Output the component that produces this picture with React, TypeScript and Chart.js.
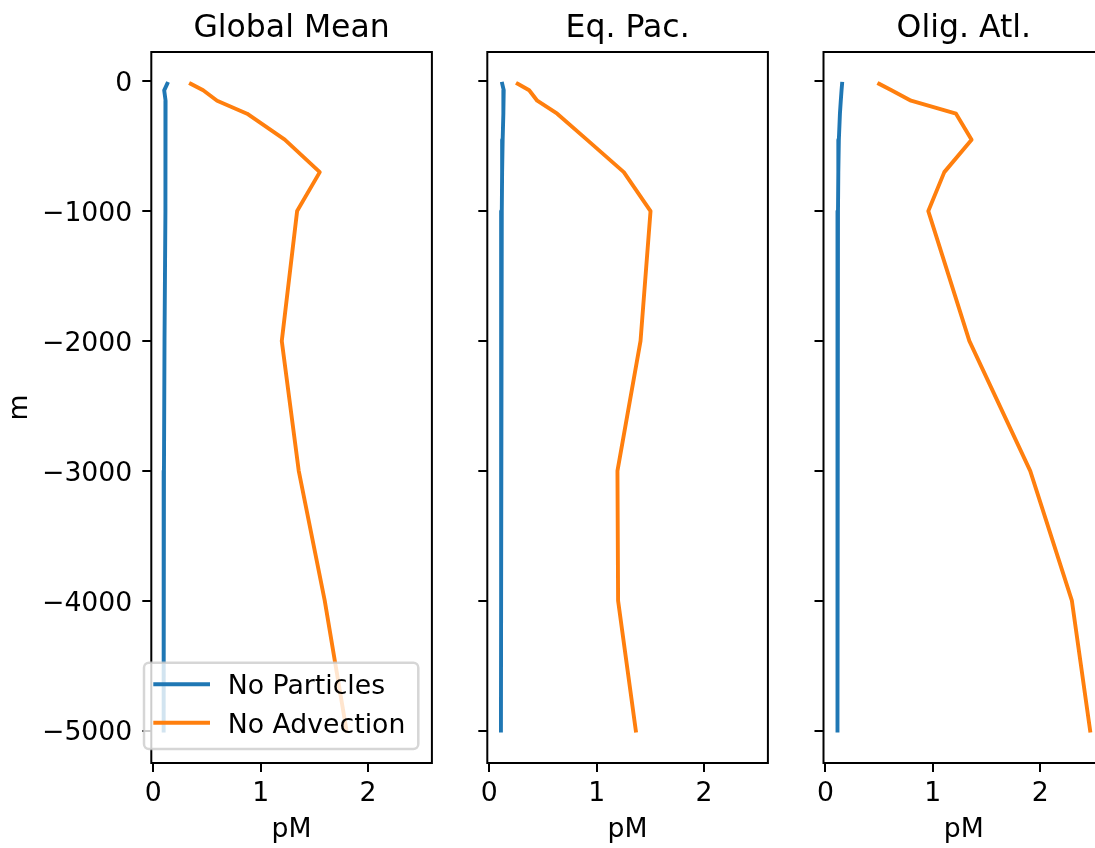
import React, { useEffect, useRef } from "react";
import { Chart, registerables } from "chart.js";
Chart.register(...registerables);

// ---------- data ----------
const DEPTHS = [-20, -70, -150, -250, -450, -700, -1000, -2000, -3000, -4000, -5000];
const PANEL_TITLES = ["Global Mean", "Eq. Pac.", "Olig. Atl."];
const SERIES_NAMES = ["No Particles", "No Advection"];
const GLOBAL_NO_PARTICLES = [0.13, 0.102, 0.115, 0.117, 0.115, 0.112, 0.11, 0.105, 0.1, 0.097, 0.097];
const GLOBAL_NO_ADVECTION = [0.35, 0.465, 0.595, 0.874, 1.225, 1.551, 1.34, 1.197, 1.355, 1.597, 1.8];
const EQPAC_NO_PARTICLES = [0.121, 0.135, 0.133, 0.13, 0.125, 0.12, 0.117, 0.112, 0.11, 0.11, 0.109];
const EQPAC_NO_ADVECTION = [0.265, 0.372, 0.447, 0.633, 0.909, 1.253, 1.502, 1.409, 1.194, 1.2, 1.365];
const OLIG_NO_PARTICLES = [0.155, 0.15, 0.143, 0.135, 0.125, 0.12, 0.117, 0.113, 0.112, 0.112, 0.112];
const OLIG_NO_ADVECTION = [0.5, 0.615, 0.797, 1.216, 1.361, 1.107, 0.958, 1.34, 1.907, 2.295, 2.465];
const X_TICKS = [0, 1, 2];
const Y_TICKS = [0, -1000, -2000, -3000, -4000, -5000];
const X_LABEL = "pM";
const Y_LABEL = "m";

// ---------- layout / style ----------
const FONT = '"DejaVu Sans", "Liberation Sans", sans-serif';
const TICK_SIZE = 26.7;
const TITLE_SIZE = 31.5;
const CANVAS_W = 1120;
const CANVAS_H = 848;
const PANEL_LEFT = [151.3, 487.3, 823.5];
const PANEL_W = 280.6;
const AREA_TOP = 52;
const AREA_BOTTOM = 763;
const X_MIN = -0.018;
const X_MAX = 2.595;
const Y_MIN = -5250;
const Y_MAX = 225;
const BLUE = "#1f77b4";
const ORANGE = "#ff7f0e";

const PANEL_SERIES = [
  [GLOBAL_NO_PARTICLES, GLOBAL_NO_ADVECTION],
  [EQPAC_NO_PARTICLES, EQPAC_NO_ADVECTION],
  [OLIG_NO_PARTICLES, OLIG_NO_ADVECTION],
];

const fmt = (v: number) => (v < 0 ? "\u2212" + Math.abs(v) : String(v));

const decorPlugin = {
  id: "decor",
  afterDatasetsDraw(chart: any, _args: any, opts: any) {
    const { ctx, chartArea: a } = chart;
    ctx.save();
    // spines
    ctx.strokeStyle = "#000";
    ctx.lineWidth = 2;
    ctx.strokeRect(a.left, a.top, a.right - a.left, a.bottom - a.top);
    const cx = (a.left + a.right) / 2;
    ctx.fillStyle = "#000";
    // title
    ctx.font = `${TITLE_SIZE}px ${FONT}`;
    ctx.textAlign = "center";
    ctx.textBaseline = "alphabetic";
    ctx.fillText(opts.title, cx, 37);
    // x label
    ctx.font = `${TICK_SIZE}px ${FONT}`;
    ctx.fillText(X_LABEL, cx, 837);
    // y label
    if (opts.yLabel) {
      ctx.save();
      ctx.translate(27, (a.top + a.bottom) / 2);
      ctx.rotate(-Math.PI / 2);
      ctx.textAlign = "center";
      ctx.fillText(Y_LABEL, 0, 0);
      ctx.restore();
    }
    // legend
    if (opts.legend) {
      const bx = a.left - 7.3;
      const by = 662.7;
      const bw = 274.3;
      const bh = 86.3;
      const r = 5;
      ctx.beginPath();
      ctx.moveTo(bx + r, by);
      ctx.lineTo(bx + bw - r, by);
      ctx.arcTo(bx + bw, by, bx + bw, by + r, r);
      ctx.lineTo(bx + bw, by + bh - r);
      ctx.arcTo(bx + bw, by + bh, bx + bw - r, by + bh, r);
      ctx.lineTo(bx + r, by + bh);
      ctx.arcTo(bx, by + bh, bx, by + bh - r, r);
      ctx.lineTo(bx, by + r);
      ctx.arcTo(bx, by, bx + r, by, r);
      ctx.closePath();
      ctx.fillStyle = "rgba(255,255,255,0.8)";
      ctx.fill();
      ctx.strokeStyle = "rgba(204,204,204,0.8)";
      ctx.lineWidth = 2.5;
      ctx.stroke();
      const rows = [684.3, 722.7];
      chart.data.datasets.forEach((ds: any, i: number) => {
        ctx.strokeStyle = ds.borderColor;
        ctx.lineWidth = 3.9;
        ctx.lineCap = "butt";
        ctx.beginPath();
        ctx.moveTo(a.left + 2, rows[i]);
        ctx.lineTo(a.left + 58.7, rows[i]);
        ctx.stroke();
        ctx.fillStyle = "#000";
        ctx.font = `${TICK_SIZE}px ${FONT}`;
        ctx.textAlign = "left";
        ctx.textBaseline = "alphabetic";
        ctx.fillText(ds.label, a.left + 76.5, rows[i] + 10);
      });
    }
    ctx.restore();
  },
};

function Panel({ index }: { index: number }) {
  const ref = useRef<HTMLCanvasElement>(null);
  useEffect(() => {
    if (!ref.current) return;
    const first = index === 0;
    const yW = first ? PANEL_LEFT[0] : 20;
    const left = PANEL_LEFT[index];
    const right = left + PANEL_W;
    const [np, na] = PANEL_SERIES[index];
    const grid = {
      display: true,
      drawOnChartArea: false,
      drawTicks: true,
      tickLength: 9,
      lineWidth: 2,
      tickWidth: 2,
      color: "#000",
      tickColor: "#000",
    };
    const chart = new Chart(ref.current, {
      type: "line",
      data: {
        datasets: [
          {
            label: SERIES_NAMES[0],
            data: DEPTHS.map((d, i) => ({ x: np[i], y: d })),
            borderColor: BLUE,
            backgroundColor: BLUE,
            borderWidth: 3.9,
            pointRadius: 0,
            fill: false,
            tension: 0,
            borderCapStyle: "square",
            borderJoinStyle: "round",
          },
          {
            label: SERIES_NAMES[1],
            data: DEPTHS.map((d, i) => ({ x: na[i], y: d })),
            borderColor: ORANGE,
            backgroundColor: ORANGE,
            borderWidth: 3.9,
            pointRadius: 0,
            fill: false,
            tension: 0,
            borderCapStyle: "square",
            borderJoinStyle: "round",
          },
        ],
      },
      options: {
        animation: false,
        responsive: false,
        maintainAspectRatio: false,
        devicePixelRatio: 1,
        layout: {
          padding: {
            left: left - yW,
            right: CANVAS_W - right,
            top: AREA_TOP,
            bottom: 0,
          },
        },
        plugins: {
          legend: { display: false },
          tooltip: { enabled: false },
          decor: { title: PANEL_TITLES[index], yLabel: first, legend: first },
        } as any,
        scales: {
          x: {
            type: "linear",
            min: X_MIN,
            max: X_MAX,
            afterBuildTicks: (s: any) => {
              s.ticks = X_TICKS.map((v) => ({ value: v }));
            },
            afterFit: (s: any) => {
              s.height = CANVAS_H - AREA_BOTTOM;
            },
            grid,
            border: { display: false },
            ticks: {
              color: "#000",
              font: { family: FONT, size: TICK_SIZE },
              padding: 6,
              maxRotation: 0,
              autoSkip: false,
              callback: (v: any) => fmt(Number(v)),
            },
          },
          y: {
            type: "linear",
            min: Y_MIN,
            max: Y_MAX,
            afterBuildTicks: (s: any) => {
              s.ticks = Y_TICKS.map((v) => ({ value: v }));
            },
            afterFit: (s: any) => {
              s.width = yW;
            },
            grid,
            border: { display: false },
            ticks: {
              display: first,
              color: "#000",
              font: { family: FONT, size: TICK_SIZE },
              padding: 10,
              labelOffset: 3,
              autoSkip: false,
              callback: (v: any) => fmt(Number(v)),
            },
          },
        },
      } as any,
      plugins: [decorPlugin as any],
    } as any);
    return () => chart.destroy();
  }, [index]);
  return (
    <canvas
      ref={ref}
      width={CANVAS_W}
      height={CANVAS_H}
      style={{ position: "absolute", left: 0, top: 0, width: CANVAS_W, height: CANVAS_H }}
    />
  );
}

export default function App() {
  return (
    <div
      style={{
        position: "fixed",
        left: 0,
        top: 0,
        width: 1095,
        height: 848,
        overflow: "hidden",
        background: "#fff",
      }}
    >
      {PANEL_TITLES.map((_, i) => (
        <Panel key={i} index={i} />
      ))}
    </div>
  );
}
